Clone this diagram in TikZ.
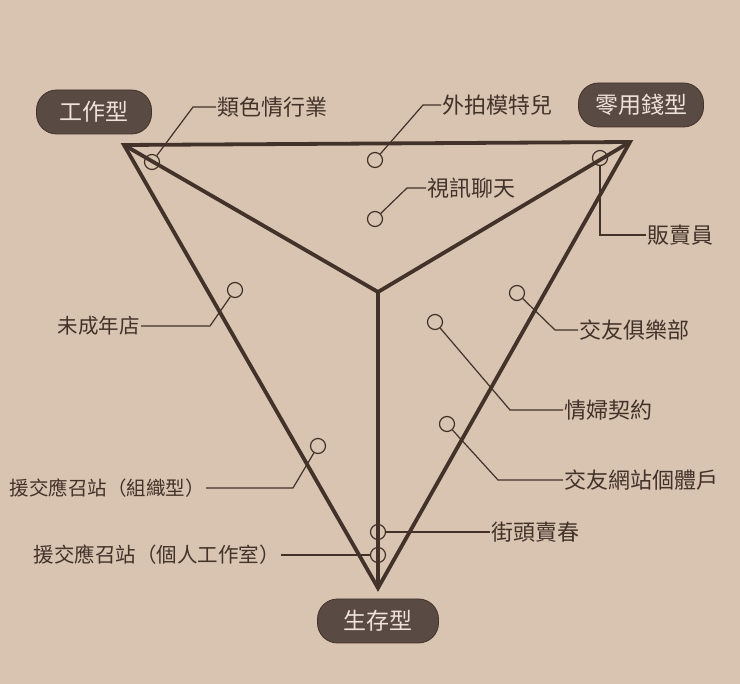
\documentclass[tikz,border=0pt]{standalone}
\usepackage{fontspec}
\setmainfont{Noto Sans CJK TC}
\begin{document}
\begin{tikzpicture}[x=1pt,y=-1pt,
  bg/.style={fill=paper,draw=none},
  tri/.style={draw=ink,line width=3.8pt,line join=miter,line cap=butt},
  lead/.style={draw=ink,line width=1.2pt},
  dot/.style={circle,draw=ink,line width=1.2pt,minimum size=15pt,inner sep=0pt},
  lbl/.style={text=ink,font=\fontsize{22}{24}\selectfont,inner sep=1pt},
  lbll/.style={text=ink,font=\fontsize{20.5}{23}\selectfont,inner sep=1pt},
  lbls/.style={text=ink,font=\fontsize{19.5}{22}\selectfont,inner sep=1pt},
  pill/.style={fill=pillc,draw=ink,line width=0.8pt,rounded corners=20pt,text=pilltext,
    font=\fontsize{23}{25}\selectfont,minimum height=44pt,inner sep=2pt}]
\definecolor{paper}{HTML}{D8C4B0}
\definecolor{ink}{HTML}{42322A}
\definecolor{pillc}{HTML}{5A4A44}
\definecolor{pilltext}{HTML}{EDE3DA}
\fill[bg] (0,0) rectangle (740,684);
\useasboundingbox (0,0) rectangle (740,684);
% vertices
\coordinate (A) at (124,145);
\coordinate (B) at (630,142);
\coordinate (C) at (378,588);
\coordinate (O) at (378,292);
\draw[tri] (A) -- (B) -- (C) -- cycle;
\draw[tri] (A) -- (O) -- (B);
\draw[tri] (O) -- (C);
% pills
\node[pill,minimum width=115pt] (work) at (94,112) {工作型};
\node[pill,minimum width=125pt] (pocket) at (641,105) {零用錢型};
\node[pill,minimum width=121pt] (live) at (378,621) {生存型};
% circles
\node[dot] (c1) at (152,162) {};
\node[dot] (c2) at (375,160) {};
\node[dot] (c3) at (375,219) {};
\node[dot] (c4) at (600,158) {};
\node[dot] (c5) at (235,290) {};
\node[dot] (c6) at (318,446) {};
\node[dot] (c7) at (378,532) {};
\node[dot] (c8) at (378,555) {};
\node[dot] (c9) at (517,293) {};
\node[dot] (c10) at (435,322) {};
\node[dot] (c11) at (447,424) {};
% labels
\node[lbl,anchor=west] (t1) at (216,107) {類色情行業};
\node[lbl,anchor=west] (t2) at (441,105) {外拍模特兒};
\node[lbl,anchor=west] (t3) at (426,188) {視訊聊天};
\node[lbl,anchor=west] (t4) at (646,235) {販賣員};
\node[lbll,anchor=east] (t5) at (141,326) {未成年店};
\node[lbls,anchor=east] (t6) at (206,488) {援交應召站（組織型）};
\node[lbll,anchor=east] (t7) at (281,555) {援交應召站（個人工作室）};
\node[lbl,anchor=west] (t8) at (490,532) {街頭賣春};
\node[lbl,anchor=west] (t9) at (578,330) {交友俱樂部};
\node[lbl,anchor=west] (t10) at (563,410) {情婦契約};
\node[lbl,anchor=west] (t11) at (563,480) {交友網站個體戶};
% bends
\coordinate (b1) at (193,107);
\coordinate (b2) at (423,105);
\coordinate (b3) at (407,188);
\coordinate (b4) at (600,235);
\coordinate (b5) at (210,326);
\coordinate (b6) at (293,488);
\coordinate (b9) at (555,330);
\coordinate (b10) at (510,410);
\coordinate (b11) at (498,480);
% leaders
\draw[lead] (c1) -- (b1) -- (t1.west);
\draw[lead] (c2) -- (b2) -- (t2.west);
\draw[lead] (c3) -- (b3) -- (t3.west);
\draw[lead] (c4) -- (b4) -- (t4.west);
\draw[lead] (c5) -- (b5) -- (t5.east);
\draw[lead] (c6) -- (b6) -- (t6.east);
\draw[lead] (c8) -- (t7.east);
\draw[lead] (c7) -- (t8.west);
\draw[lead] (c9) -- (b9) -- (t9.west);
\draw[lead] (c10) -- (b10) -- (t10.west);
\draw[lead] (c11) -- (b11) -- (t11.west);
\end{tikzpicture}
\end{document}
